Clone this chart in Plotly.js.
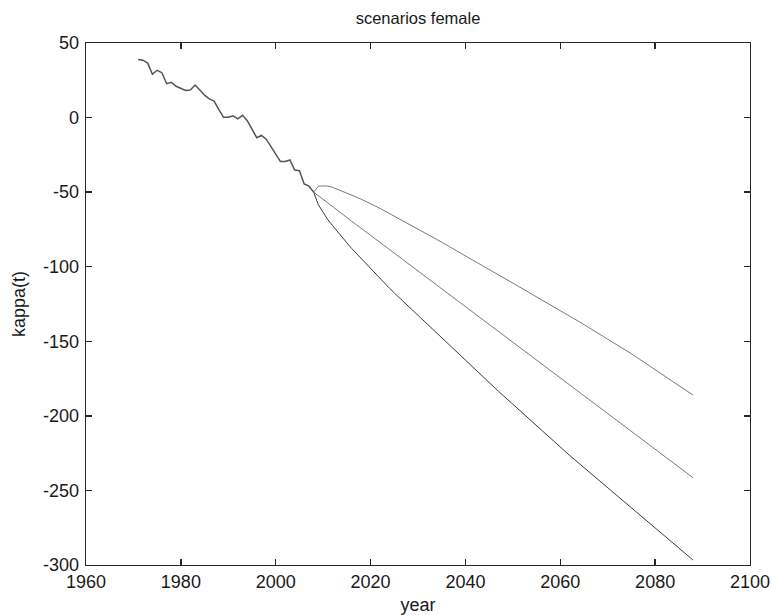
<!DOCTYPE html>
<html>
<head>
<meta charset="utf-8">
<script src="https://cdn.plot.ly/plotly-3.0.1.min.js"></script>
<style>html,body{margin:0;padding:0;background:#fff;}#chart{width:772px;height:615px;}</style>
</head>
<body>
<div id="chart"></div>
<script>
// Historical kappa(t), 1971-2008
const histYears = [1971,1972,1973,1974,1975,1976,1977,1978,1979,1980,1981,1982,1983,1984,1985,1986,1987,1988,1989,1990,1991,1992,1993,1994,1995,1996,1997,1998,1999,2000,2001,2002,2003,2004,2005,2006,2007,2008];
const histKappa = [39,38.5,36.5,29,31.7,30.1,22.7,23.6,21,19.5,18.2,18.5,21.8,18.5,15,12.5,11.1,5.5,0.2,0.2,1.2,-0.8,1.5,-2.1,-7.8,-13.5,-12,-14.5,-19.5,-24.7,-29.5,-29.5,-28.4,-35.2,-35.6,-44.5,-46,-50];

// Projection scenarios, 2008-2088
const projYears = [2008,2009,2010,2011,2012,2013,2014,2015,2016,2017,2018,2019,2020,2021,2022,2023,2024,2025,2026,2027,2028,2029,2030,2031,2032,2033,2034,2035,2036,2037,2038,2039,2040,2041,2042,2043,2044,2045,2046,2047,2048,2049,2050,2051,2052,2053,2054,2055,2056,2057,2058,2059,2060,2061,2062,2063,2064,2065,2066,2067,2068,2069,2070,2071,2072,2073,2074,2075,2076,2077,2078,2079,2080,2081,2082,2083,2084,2085,2086,2087,2088];
const scenarioHigh = [-50,-46,-45.8,-46,-46.8,-48,-49.4,-50.7,-52,-53.3,-54.7,-56.1,-57.7,-59.3,-60.9,-62.6,-64.3,-66,-67.7,-69.4,-71.2,-73,-74.8,-76.5,-78.3,-80,-81.8,-83.6,-85.4,-87.2,-89,-90.8,-92.6,-94.4,-96.2,-98,-99.8,-101.6,-103.4,-105.2,-107.1,-108.9,-110.8,-112.7,-114.6,-116.5,-118.4,-120.2,-122,-123.8,-125.6,-127.4,-129.3,-131.2,-133.1,-135,-136.9,-138.8,-140.7,-142.6,-144.5,-146.4,-148.3,-150.2,-152.1,-154.2,-156.3,-158.4,-160.5,-162.6,-164.7,-166.8,-168.9,-171,-173.2,-175.3,-177.5,-179.6,-181.8,-183.9,-186.1];
const scenarioMid = [-50,-52.5,-55,-57.4,-59.8,-62.2,-64.6,-67,-69.4,-71.8,-74.1,-76.5,-78.9,-81.3,-83.7,-86.1,-88.5,-90.9,-93.3,-95.7,-98,-100.4,-102.8,-105.2,-107.6,-110,-112.4,-114.8,-117.2,-119.6,-121.9,-124.3,-126.7,-129.1,-131.5,-133.9,-136.3,-138.7,-141.1,-143.5,-145.8,-148.2,-150.6,-153,-155.4,-157.8,-160.2,-162.6,-165,-167.4,-169.7,-172.1,-174.5,-176.9,-179.3,-181.7,-184.1,-186.5,-188.9,-191.3,-193.6,-196,-198.4,-200.8,-203.2,-205.6,-208,-210.4,-212.8,-215.2,-217.5,-219.9,-222.3,-224.7,-227.1,-229.5,-231.9,-234.3,-236.7,-239.1,-241.5];
const scenarioLow = [-50,-58.5,-63.5,-68.5,-72.5,-76.5,-80.3,-84,-87.7,-91.1,-94.5,-98,-101.3,-104.6,-107.9,-111.2,-114.5,-117.6,-120.6,-123.7,-126.7,-129.8,-132.8,-135.9,-138.9,-142,-145,-148.1,-151.1,-154.2,-157.2,-160.2,-163.1,-166,-168.9,-171.9,-174.8,-177.7,-180.6,-183.6,-186.5,-189.4,-192.3,-195.2,-198.1,-201,-203.9,-206.8,-209.8,-212.7,-215.6,-218.5,-221.2,-223.9,-226.6,-229.3,-232,-234.7,-237.4,-240.1,-242.8,-245.5,-248.2,-250.9,-253.6,-256.3,-259,-261.7,-264.4,-267.1,-269.8,-272.5,-275.2,-277.9,-280.6,-283.3,-286,-288.7,-291.4,-294.1,-296.7];

// Tick labels
const xTickVals = [1960,1980,2000,2020,2040,2060,2080,2100];
const xTickText = ["1960","1980","2000","2020","2040","2060","2080","2100"];
const yTickVals = [50,0,-50,-100,-150,-200,-250,-300];
const yTickText = ["50","0","-50","-100","-150","-200","-250","-300"];

const FONT = '"Liberation Sans", Arial, Helvetica, sans-serif';

const traces = [
  {x: projYears, y: scenarioHigh, mode: 'lines', line: {color: '#7a7a7a', width: 1}},
  {x: projYears, y: scenarioMid, mode: 'lines', line: {color: '#7a7a7a', width: 1}},
  {x: projYears, y: scenarioLow, mode: 'lines', line: {color: '#3c3c3c', width: 1}},
  {x: histYears, y: histKappa, mode: 'lines', line: {color: '#555555', width: 1.5}}
];

const axisCommon = {
  showline: true, linecolor: '#262626', linewidth: 1.3, mirror: 'allticks',
  ticks: 'inside', ticklen: 6, tickcolor: '#262626', tickwidth: 1.3,
  showgrid: false, zeroline: false,
  tickfont: {family: FONT, size: 18, color: '#1a1a1a'}
};

const layout = {
  width: 772, height: 615,
  margin: {l: 86, r: 22, t: 43, b: 50},
  paper_bgcolor: '#ffffff', plot_bgcolor: '#ffffff',
  showlegend: false,
  title: {text: 'scenarios female', font: {family: FONT, size: 16.5, color: '#1a1a1a'},
          x: 0.5415, xanchor: 'center', y: 1 - 18/615, yanchor: 'middle', yref: 'container'},
  xaxis: Object.assign({}, axisCommon, {
    range: [1960, 2100], tickmode: 'array', tickvals: xTickVals, ticktext: xTickText,
    ticklabelstandoff: 0,
    title: {text: 'year', font: {family: FONT, size: 18, color: '#1a1a1a'}, standoff: 9}
  }),
  yaxis: Object.assign({}, axisCommon, {
    range: [-300, 50], tickmode: 'array', tickvals: yTickVals, ticktext: yTickText,
    ticklabelstandoff: 2,
    title: {text: 'kappa(t)', font: {family: FONT, size: 18, color: '#1a1a1a'}, standoff: 12}
  })
};

Plotly.newPlot('chart', traces, layout, {staticPlot: true, displayModeBar: false});
</script>
</body>
</html>
